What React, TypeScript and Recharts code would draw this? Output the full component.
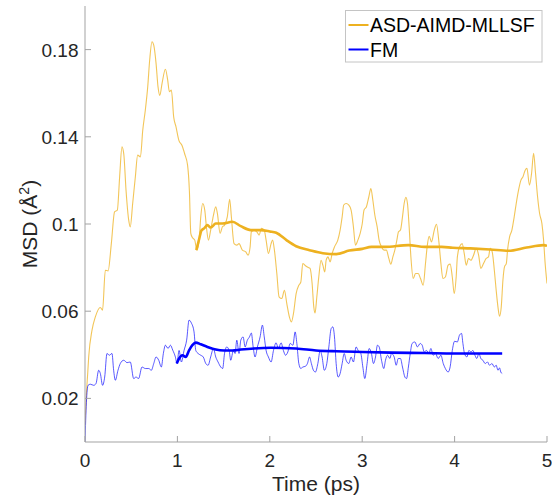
import React from 'react';
import { LineChart, Line, XAxis, YAxis, Legend } from 'recharts';

// ---- data: [time (ps), MSD (Å^2)] ----
const asdRaw: [number, number][] = [
  [0, 0.008], [0.015, 0.022], [0.03, 0.032], [0.04, 0.039], [0.076, 0.0513], [0.112, 0.0574], [0.166, 0.0617], [0.19, 0.0605],
  [0.22, 0.0788], [0.25, 0.0785], [0.285, 0.091], [0.32, 0.1056], [0.35, 0.1064], [0.375, 0.1217], [0.4, 0.1354], [0.42, 0.132],
  [0.444, 0.1155], [0.473, 0.1018], [0.49, 0.0987], [0.516, 0.1094], [0.545, 0.1217], [0.57, 0.1316], [0.6, 0.1308], [0.625, 0.143],
  [0.653, 0.1523], [0.679, 0.163], [0.7, 0.1752], [0.725, 0.1836], [0.744, 0.182], [0.769, 0.1737], [0.79, 0.163], [0.81, 0.159],
  [0.834, 0.1645], [0.87, 0.171], [0.895, 0.166], [0.913, 0.1607], [0.935, 0.1614], [0.96, 0.149], [0.985, 0.1446], [1.015, 0.1385],
  [1.05, 0.136], [1.08, 0.132], [1.11, 0.127], [1.13, 0.115], [1.145, 0.0957], [1.162, 0.0938], [1.188, 0.0926], [1.21, 0.088],
  [1.235, 0.0926], [1.253, 0.1033], [1.274, 0.1094], [1.296, 0.1064], [1.314, 0.0987], [1.336, 0.0926], [1.36, 0.0972], [1.39, 0.104],
  [1.415, 0.1079], [1.433, 0.1048], [1.462, 0.0957], [1.487, 0.0987], [1.51, 0.0995], [1.54, 0.1033], [1.566, 0.1113], [1.584, 0.1033],
  [1.613, 0.091], [1.643, 0.0903], [1.667, 0.091], [1.703, 0.088], [1.74, 0.0872], [1.765, 0.0857], [1.787, 0.0895], [1.8, 0.0964],
  [1.83, 0.0972], [1.86, 0.0964], [1.884, 0.0949], [1.91, 0.098], [1.94, 0.0972], [1.96, 0.0926], [1.985, 0.0865], [2.014, 0.091],
  [2.03, 0.0926], [2.05, 0.088], [2.076, 0.0773], [2.1, 0.0666], [2.13, 0.0658], [2.158, 0.0696], [2.184, 0.0635], [2.212, 0.0574],
  [2.234, 0.0551], [2.256, 0.0589], [2.285, 0.0681], [2.314, 0.0719], [2.336, 0.0734], [2.357, 0.0819], [2.38, 0.0811], [2.407, 0.0803],
  [2.436, 0.0796], [2.458, 0.0727], [2.476, 0.062], [2.49, 0.0592], [2.509, 0.0666], [2.53, 0.0757], [2.555, 0.0834], [2.574, 0.0811],
  [2.595, 0.078], [2.61, 0.0834], [2.63, 0.0849], [2.653, 0.0826], [2.675, 0.0865], [2.7, 0.0895], [2.736, 0.0926], [2.761, 0.0972],
  [2.783, 0.1033], [2.8, 0.1087], [2.826, 0.1094], [2.855, 0.1087], [2.88, 0.1064], [2.905, 0.0987], [2.927, 0.0903], [2.953, 0.0926],
  [2.978, 0.0957], [3.0, 0.1], [3.02, 0.1064], [3.046, 0.1079], [3.072, 0.1125], [3.094, 0.1163], [3.115, 0.111], [3.137, 0.104],
  [3.162, 0.0987], [3.183, 0.0926], [3.209, 0.0895], [3.238, 0.088], [3.262, 0.088], [3.288, 0.0842], [3.31, 0.0816], [3.332, 0.0849],
  [3.353, 0.088], [3.375, 0.0926], [3.393, 0.0964], [3.414, 0.0972], [3.436, 0.1033], [3.454, 0.1094], [3.473, 0.1122], [3.49, 0.1094],
  [3.508, 0.0987], [3.527, 0.0849], [3.552, 0.075], [3.577, 0.0773], [3.606, 0.0773], [3.631, 0.075], [3.66, 0.0719], [3.685, 0.0819],
  [3.707, 0.091], [3.725, 0.0944], [3.75, 0.0918], [3.78, 0.0972], [3.804, 0.0999], [3.83, 0.0918], [3.852, 0.0819], [3.873, 0.075],
  [3.9, 0.0757], [3.93, 0.0811], [3.952, 0.0816], [3.975, 0.0757], [3.996, 0.0681], [4.017, 0.0757], [4.03, 0.0849], [4.053, 0.0895],
  [4.082, 0.091], [4.104, 0.0865], [4.126, 0.0811], [4.15, 0.0842], [4.177, 0.0834], [4.205, 0.0857], [4.234, 0.0888], [4.26, 0.0857],
  [4.284, 0.0796], [4.313, 0.0819], [4.342, 0.0842], [4.367, 0.0849], [4.385, 0.0888], [4.407, 0.0872], [4.43, 0.0788], [4.45, 0.0696],
  [4.469, 0.062], [4.486, 0.0577], [4.505, 0.062], [4.523, 0.0742], [4.54, 0.0803], [4.56, 0.0819], [4.573, 0.088], [4.595, 0.0941],
  [4.62, 0.0972], [4.645, 0.1033], [4.667, 0.1094], [4.692, 0.1155], [4.718, 0.1201], [4.74, 0.1217], [4.764, 0.1247], [4.783, 0.1255],
  [4.81, 0.1178], [4.833, 0.1232], [4.855, 0.1324], [4.876, 0.1232], [4.898, 0.1125], [4.92, 0.1048], [4.945, 0.1002], [4.963, 0.0926],
  [4.98, 0.0819], [5.0, 0.0727],
];

const asdSmooth: [number, number][] = [
  [1.205, 0.088], [1.235, 0.093], [1.26, 0.097], [1.289, 0.098], [1.325, 0.0995], [1.36, 0.0984], [1.415, 0.1002], [1.487, 0.1002],
  [1.595, 0.101], [1.686, 0.099], [1.794, 0.0972], [1.9, 0.0972], [2.0, 0.0966], [2.07, 0.096], [2.18, 0.0926], [2.285, 0.0898],
  [2.43, 0.088], [2.574, 0.0866], [2.72, 0.0862], [2.86, 0.0878], [3.0, 0.0886], [3.1, 0.0895], [3.245, 0.0895], [3.5, 0.0903],
  [3.678, 0.0895], [3.86, 0.0895], [3.98, 0.0891], [4.17, 0.0888], [4.385, 0.0883], [4.584, 0.0877], [4.78, 0.0892], [4.963, 0.0903],
  [5.0, 0.09],
];

const fmRaw: [number, number][] = [
  [0, 0], [0.015, 0.018], [0.033, 0.026], [0.058, 0.0265], [0.094, 0.026], [0.119, 0.0268], [0.148, 0.0329], [0.166, 0.0314],
  [0.19, 0.026], [0.213, 0.0298], [0.238, 0.0406], [0.263, 0.0398], [0.292, 0.0406], [0.31, 0.0329], [0.328, 0.0283], [0.357, 0.0329],
  [0.382, 0.036], [0.419, 0.0375], [0.455, 0.0364], [0.49, 0.0367], [0.527, 0.0291], [0.552, 0.0298], [0.58, 0.0291], [0.617, 0.0344],
  [0.653, 0.0337], [0.69, 0.0337], [0.718, 0.0329], [0.744, 0.036], [0.769, 0.039], [0.798, 0.0375], [0.826, 0.0344], [0.848, 0.0406],
  [0.87, 0.0444], [0.899, 0.0429], [0.924, 0.0444], [0.95, 0.0421], [0.978, 0.039], [0.995, 0.036], [1.018, 0.042], [1.043, 0.0367],
  [1.072, 0.042], [1.1, 0.0467], [1.126, 0.0559], [1.151, 0.0546], [1.18, 0.0505], [1.199, 0.042], [1.224, 0.0406], [1.253, 0.0398],
  [1.28, 0.039], [1.307, 0.036], [1.332, 0.0352], [1.36, 0.039], [1.39, 0.0429], [1.415, 0.039], [1.44, 0.0367], [1.469, 0.0344],
  [1.49, 0.0337], [1.51, 0.0406], [1.534, 0.0436], [1.56, 0.042], [1.577, 0.0375], [1.606, 0.042], [1.624, 0.0406], [1.643, 0.0467],
  [1.667, 0.0406], [1.686, 0.0467], [1.711, 0.0482], [1.733, 0.0436], [1.757, 0.0467], [1.78, 0.0482], [1.8, 0.05], [1.82, 0.0436],
  [1.84, 0.039], [1.866, 0.0436], [1.895, 0.0482], [1.92, 0.0536], [1.94, 0.0482], [1.96, 0.042], [1.985, 0.039], [2.014, 0.0367],
  [2.04, 0.042], [2.068, 0.0455], [2.093, 0.0429], [2.122, 0.0455], [2.147, 0.042], [2.17, 0.0398], [2.195, 0.0413], [2.22, 0.0452],
  [2.25, 0.0444], [2.274, 0.0505], [2.293, 0.0452], [2.314, 0.036], [2.336, 0.0337], [2.357, 0.0344], [2.385, 0.0347], [2.407, 0.036],
  [2.43, 0.039], [2.45, 0.036], [2.472, 0.0329], [2.494, 0.0321], [2.52, 0.036], [2.545, 0.042], [2.566, 0.039], [2.59, 0.0329],
  [2.617, 0.036], [2.639, 0.0436], [2.664, 0.052], [2.682, 0.0528], [2.7, 0.0482], [2.718, 0.036], [2.74, 0.0298], [2.761, 0.0314],
  [2.783, 0.036], [2.805, 0.0406], [2.826, 0.0375], [2.855, 0.036], [2.88, 0.039], [2.905, 0.0367], [2.934, 0.0436], [2.956, 0.042],
  [2.985, 0.0406], [3.007, 0.0344], [3.028, 0.0291], [3.053, 0.036], [3.075, 0.0429], [3.1, 0.0406], [3.122, 0.036], [3.144, 0.039],
  [3.165, 0.0444], [3.184, 0.0436], [3.209, 0.0375], [3.234, 0.0337], [3.252, 0.0375], [3.274, 0.0398], [3.3, 0.0383], [3.317, 0.0406],
  [3.346, 0.039], [3.368, 0.0352], [3.39, 0.0383], [3.414, 0.0383], [3.436, 0.0344], [3.462, 0.0298], [3.48, 0.0291], [3.5, 0.0344],
  [3.52, 0.0406], [3.54, 0.0452], [3.57, 0.0459], [3.598, 0.0436], [3.627, 0.0452], [3.649, 0.0444], [3.671, 0.0413], [3.696, 0.042],
  [3.722, 0.0406], [3.743, 0.0429], [3.768, 0.0398], [3.793, 0.0406], [3.822, 0.0383], [3.852, 0.0398], [3.877, 0.036], [3.9, 0.0337],
  [3.93, 0.0321], [3.952, 0.0345], [3.975, 0.042], [4.0, 0.0462], [4.03, 0.0459], [4.053, 0.049], [4.075, 0.0498], [4.09, 0.0452],
  [4.107, 0.0406], [4.133, 0.039], [4.155, 0.042], [4.177, 0.0413], [4.198, 0.042], [4.22, 0.0398], [4.24, 0.0383], [4.263, 0.0406],
  [4.284, 0.0383], [4.306, 0.0375], [4.331, 0.036], [4.356, 0.0367], [4.378, 0.0352], [4.404, 0.036], [4.43, 0.0344], [4.45, 0.0352],
  [4.469, 0.0329], [4.486, 0.034], [4.5, 0.0321], [4.515, 0.0314],
];

const fmSmooth: [number, number][] = [
  [0.993, 0.036], [1.018, 0.0383], [1.054, 0.0398], [1.09, 0.039], [1.126, 0.042], [1.162, 0.0444], [1.199, 0.0456], [1.253, 0.0448],
  [1.325, 0.0436], [1.415, 0.0424], [1.505, 0.042], [1.595, 0.042], [1.686, 0.0424], [1.83, 0.0429], [2.01, 0.0432], [2.285, 0.0429],
  [2.5, 0.042], [2.72, 0.0416], [3.0, 0.0413], [3.317, 0.041], [3.678, 0.0408], [4.0, 0.0406], [4.24, 0.0406], [4.515, 0.0406],
];

const xTicks = [0, 1, 2, 3, 4, 5];
const yTicks = [0.02, 0.06, 0.1, 0.14, 0.18];
const seriesNames = ['ASD-AIMD-MLLSF', 'FM'];

const toRows = (arr: [number, number][]) => arr.map(([t, v]) => ({ t, v }));

const ORANGE = '#EDB120';
const BLUE = '#0000FF';
const AXIS = '#a3a3a3';
const TXT = '#262626';
const FONT = '"Liberation Sans", Arial, Helvetica, sans-serif';

const fmtY = (v: number) => String(+v.toFixed(2));

const BottomTick = (p: any) => (
  <g>
    <line x1={p.x} y1={p.y} x2={p.x} y2={p.y - 6} stroke={AXIS} />
    <text x={p.x} y={p.y + 25} textAnchor="middle" fill={TXT} fontSize={19} fontFamily={FONT}>
      {p.payload.value}
    </text>
  </g>
);
const TopTick = (p: any) => <line x1={p.x} y1={p.y} x2={p.x} y2={p.y + 6} stroke={AXIS} />;
const LeftTick = (p: any) => (
  <g>
    <line x1={p.x} y1={p.y} x2={p.x + 6} y2={p.y} stroke={AXIS} />
    <text x={p.x - 6.5} y={p.y + 7} textAnchor="end" fill={TXT} fontSize={19} fontFamily={FONT}>
      {fmtY(p.payload.value)}
    </text>
  </g>
);
const RightTick = (p: any) => <line x1={p.x} y1={p.y} x2={p.x - 6} y2={p.y} stroke={AXIS} />;

const XLabel = (p: any) => {
  const vb = p.viewBox || { x: 85, y: 442, width: 462 };
  return (
    <text x={vb.x + vb.width / 2} y={vb.y + 49} textAnchor="middle" fill={TXT} fontSize={21} fontFamily={FONT}>
      Time (ps)
    </text>
  );
};
const YLabel = () => (
  <text x={37} y={224} transform="rotate(-90, 37, 224)" textAnchor="middle" fill={TXT} fontSize={21} fontFamily={FONT}>
    MSD (Å<tspan dy={-8} fontSize={14}>2</tspan>
    <tspan dy={8}>)</tspan>
  </text>
);

const renderLegend = () => (
  <svg width={198} height={53} style={{ display: 'block' }}>
    <rect x={0.5} y={0.5} width={196.5} height={51.5} fill="#fff" stroke="#c4c4c4" />
    <line x1={3.5} y1={15} x2={23.5} y2={15} stroke={ORANGE} strokeWidth={2} />
    <text x={25} y={22.3} fontSize={19.5} fill="#000" fontFamily={FONT}>{seriesNames[0]}</text>
    <line x1={3.5} y1={39.5} x2={23.5} y2={39.5} stroke={BLUE} strokeWidth={2} />
    <text x={25} y={46.5} fontSize={19.5} fill="#000" fontFamily={FONT}>{seriesNames[1]}</text>
  </svg>
);

export default function App() {
  return (
    <div style={{ position: 'absolute', left: 0, top: 0, width: 552, height: 500, background: '#fff', fontFamily: FONT }}>
      <LineChart width={552} height={500} margin={{ top: 6, right: 5, bottom: 0, left: 0 }}>
        <XAxis
          xAxisId="bottom"
          dataKey="t"
          type="number"
          domain={[0, 5]}
          ticks={xTicks}
          orientation="bottom"
          height={58}
          tickSize={0}
          tickMargin={0}
          tickLine={false}
          stroke={AXIS}
          tick={<BottomTick />}
          label={<XLabel />}
          allowDataOverflow
        />
        <XAxis
          xAxisId="top"
          dataKey="t"
          type="number"
          domain={[0, 5]}
          ticks={xTicks}
          orientation="top"
          height={0}
          tickSize={0}
          tickMargin={0}
          tickLine={false}
          stroke={AXIS}
          tick={<TopTick />}
          allowDataOverflow
        />
        <YAxis
          yAxisId="left"
          type="number"
          domain={[0, 0.2]}
          ticks={yTicks}
          width={85}
          tickSize={0}
          tickMargin={0}
          tickLine={false}
          stroke={AXIS}
          tick={<LeftTick />}
          label={<YLabel />}
          allowDataOverflow
        />
        <YAxis
          yAxisId="right"
          orientation="right"
          type="number"
          domain={[0, 0.2]}
          ticks={yTicks}
          width={0}
          tickSize={0}
          tickMargin={0}
          tickLine={false}
          stroke={AXIS}
          tick={<RightTick />}
          allowDataOverflow
        />
        <Line xAxisId="bottom" yAxisId="left" data={toRows(asdRaw)} dataKey="v" type="monotone" stroke={ORANGE}
          strokeOpacity={0.75} strokeWidth={1.1} dot={false} activeDot={false} isAnimationActive={false} legendType="none" />
        <Line xAxisId="bottom" yAxisId="left" data={toRows(fmRaw)} dataKey="v" type="monotone" stroke={BLUE}
          strokeOpacity={0.65} strokeWidth={1} dot={false} activeDot={false} isAnimationActive={false} legendType="none" />
        <Line xAxisId="bottom" yAxisId="left" data={toRows(asdSmooth)} dataKey="v" name={seriesNames[0]} type="monotone" stroke={ORANGE}
          strokeWidth={2.6} dot={false} activeDot={false} isAnimationActive={false} />
        <Line xAxisId="bottom" yAxisId="left" data={toRows(fmSmooth)} dataKey="v" name={seriesNames[1]} type="monotone" stroke={BLUE}
          strokeWidth={2.6} dot={false} activeDot={false} isAnimationActive={false} />
        <Legend
          layout="horizontal"
          verticalAlign="middle"
          align="center"
          content={renderLegend}
          wrapperStyle={{ position: 'absolute', left: 345, top: 10, width: 198, height: 53 }}
        />
      </LineChart>
    </div>
  );
}
